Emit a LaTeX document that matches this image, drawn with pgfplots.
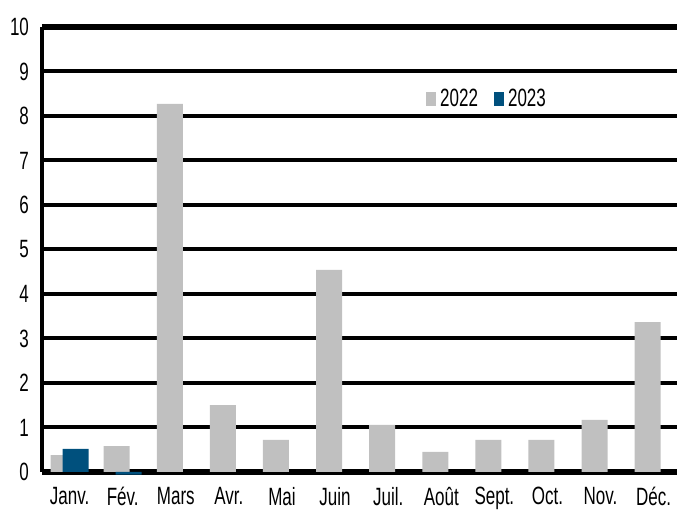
\documentclass[border=0pt]{standalone}
\usepackage{fontspec}
\setmainfont{Liberation Sans}[FakeStretch=0.68]
\usepackage{pgfplots}
\pgfplotsset{compat=1.18}
\usetikzlibrary{calc}

\definecolor{grey22}{HTML}{C0C0C0}
\definecolor{blue23}{HTML}{00507D}

\begin{document}
\begin{tikzpicture}
\begin{axis}[
  scale only axis,
  width=317.5pt, height=222.5pt,
  ybar, bar width=13pt,
  xmin=-0.52, xmax=11.44,
  ymin=0, ymax=10,
  clip=false,
  axis lines*=left,
  x axis line style={line width=2.8pt,-},
  y axis line style={line width=2pt,-},
  ytick={0,...,9},
  extra y ticks={10},
  extra y tick style={grid style={line width=3pt,black}},
  ymajorgrids,
  grid style={line width=2pt,black},
  major tick length=0pt,
  xtick={0,...,11},
  xticklabels={Janv.,Fév.,Mars,Avr.,Mai,Juin,Juil.,Août,Sept.,Oct.,Nov.,Déc.},
  /pgf/number format/assume math mode=true,
  tick label style={font=\fontsize{12.5}{14}\selectfont},
  yticklabel style={xshift=-3pt},
  xticklabel style={yshift=-4pt},
  legend style={draw=none, fill=none, at={(0.595,0.838)}, anchor=west,
    legend columns=2, font=\fontsize{12.5}{14}\selectfont,
    /tikz/every even column/.append style={column sep=6pt}},
  legend image code/.code={\fill[#1] (0pt,-3.5pt) rectangle (5pt,3.5pt);},
]
\addplot[fill=grey22, draw=none, bar shift=-3pt] coordinates {
  (0,0.38) (1,0.58) (2,8.27) (3,1.50) (4,0.72) (5,4.54)
  (6,1.06) (7,0.45) (8,0.72) (9,0.72) (10,1.17) (11,3.37)
};
\addlegendentry{2022}
\addplot[fill=blue23, draw=none, bar shift=3pt] coordinates {
  (0,0.52) (1,-0.06)
};
\addlegendentry{2023}
\end{axis}
\pgfresetboundingbox
\path ($(current axis.south west)+(-21pt,-22.5pt)$) rectangle ($(current axis.north east)+(0pt,13.5pt)$);
\end{tikzpicture}
\end{document}
